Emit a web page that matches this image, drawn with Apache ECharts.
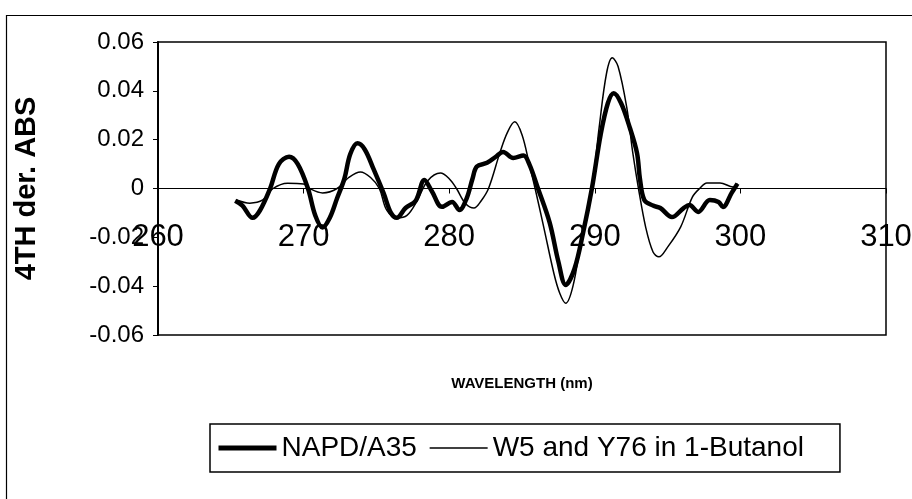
<!DOCTYPE html>
<html>
<head>
<meta charset="utf-8">
<script src="https://cdn.jsdelivr.net/npm/echarts@6/dist/echarts.min.js"></script>
<style>html,body{margin:0;padding:0;background:#fff}#c{width:912px;height:499px}</style>
</head>
<body>
<div id="c"></div>
<script>
const seriesNames = ['NAPD/A35', 'W5 and Y76 in 1-Butanol'];
const xTicks = [260, 270, 280, 290, 300, 310];
const yTicks = [-0.06, -0.04, -0.02, 0, 0.02, 0.04, 0.06];

const napdX = [265.3,265.8,266.5,267.0,267.7,268.3,269.0,269.6,270.3,270.8,271.3,271.8,272.3,272.8,273.2,273.7,274.2,274.8,275.5,276.0,276.4,277.0,277.7,278.3,278.8,279.5,280.2,280.7,281.2,281.6,281.9,282.6,283.2,283.7,284.4,285.1,285.5,286.1,286.9,287.5,288.0,288.6,289.2,289.8,290.4,290.9,291.3,291.8,292.4,292.9,293.1,293.4,294.0,294.5,295.3,296.1,296.5,297.1,297.9,298.5,298.8,299.4,299.8];
const napdY = [-0.005,-0.007,-0.012,-0.009,0.000,0.010,0.013,0.010,0.000,-0.011,-0.016,-0.012,-0.004,0.004,0.014,0.0185,0.016,0.008,-0.002,-0.010,-0.012,-0.008,-0.005,0.0035,-0.001,-0.0075,-0.0055,-0.0088,-0.004,0.004,0.009,0.0105,0.013,0.015,0.0125,0.0135,0.010,0.000,-0.014,-0.030,-0.0395,-0.033,-0.018,0.000,0.022,0.035,0.039,0.035,0.025,0.0145,0.004,-0.0047,-0.007,-0.008,-0.0117,-0.008,-0.0068,-0.0096,-0.0047,-0.0055,-0.0076,-0.0018,0.002];

const butX = [265.4,266.3,267.2,267.9,268.9,270.0,270.4,271.3,272.3,273.1,273.9,274.6,275.2,275.7,276.4,277.1,277.8,278.5,279.4,280.0,280.5,281.1,281.7,282.2,282.7,283.5,284.0,284.5,285.0,285.5,285.9,286.5,287.2,287.6,288.0,288.5,289.1,289.8,290.3,290.8,291.2,291.6,292.2,292.6,293.0,293.5,294.0,294.4,295.0,295.9,296.7,297.2,297.7,298.6,299.5,299.8];
const butY = [-0.0047,-0.006,-0.0047,0.000,0.0022,0.0018,0.000,-0.0018,0.000,0.0045,0.0068,0.0045,0.000,-0.0088,-0.012,-0.011,-0.005,0.003,0.0063,0.004,0.000,-0.006,-0.008,-0.005,0.000,0.015,0.023,0.0273,0.022,0.010,0.000,-0.016,-0.035,-0.043,-0.047,-0.040,-0.020,0.000,0.025,0.047,0.0535,0.050,0.033,0.015,0.000,-0.016,-0.026,-0.028,-0.024,-0.0157,-0.0035,0.000,0.0023,0.0023,0.0006,0.002];

const FONT = 'Liberation Sans, Arial, sans-serif';
const zip = (xs, ys) => xs.map((x, i) => [x, ys[i]]);

const chart = echarts.init(document.getElementById('c'), null, {renderer: 'canvas'});
chart.setOption({
  animation: false,
  backgroundColor: '#fff',
  graphic: [{
    type: 'rect', left: 4, top: 13, silent: true,
    shape: {width: 1000, height: 600},
    style: {fill: 'none', stroke: '#000', lineWidth: 1.2}
  }],
  grid: {left: 158, right: 26, top: 42, bottom: 164, show: true, borderColor: '#000', borderWidth: 1.5,
         backgroundColor: 'transparent', containLabel: false, outerBoundsMode: 'none'},
  xAxis: {
    type: 'value', min: xTicks[0], max: xTicks[xTicks.length - 1], interval: 10,
    name: 'WAVELENGTH (nm)', nameLocation: 'middle', nameGap: 41, nameMoveOverlap: false,
    nameTextStyle: {fontFamily: FONT, fontWeight: 'bold', fontSize: 15, color: '#000'},
    axisLine: {onZero: true, lineStyle: {color: '#000', width: 1}},
    axisTick: {show: true, length: 5, lineStyle: {color: '#000'}},
    axisLabel: {fontFamily: FONT, fontSize: 31, color: '#000', margin: -113},
    splitLine: {show: false}
  },
  yAxis: {
    type: 'value', min: yTicks[0], max: yTicks[yTicks.length - 1], interval: 0.02,
    name: '4TH der. ABS', nameLocation: 'middle', nameGap: 117, nameRotate: 90,
    nameTextStyle: {fontFamily: FONT, fontWeight: 'bold', fontSize: 29, color: '#000'},
    axisLine: {show: true, lineStyle: {color: '#000', width: 2}},
    axisTick: {show: true, length: 5, lineStyle: {color: '#000'}},
    axisLabel: {fontFamily: FONT, fontSize: 24, color: '#000', margin: 14,
      formatter: v => (Math.abs(v) < 1e-9 ? '0' : v.toFixed(2))},
    splitLine: {show: false}
  },
  legend: {
    left: 210, top: 424, orient: 'horizontal',
    data: [
      {name: seriesNames[0], lineStyle: {width: 5, color: '#000'}},
      {name: seriesNames[1], lineStyle: {width: 1.5, color: '#000'}}
    ],
    borderColor: '#000', borderWidth: 1.5, borderRadius: 0,
    padding: [10, 36, 10, 6], itemGap: 12, itemWidth: 58, itemHeight: 14,
    itemStyle: {color: 'rgba(0,0,0,0)', borderWidth: 0, opacity: 0},
    textStyle: {fontFamily: FONT, fontSize: 28, color: '#000'}
  },
  series: [
    {name: seriesNames[0], type: 'line', data: zip(napdX, napdY), smooth: 0.35, symbol: 'none',
     lineStyle: {color: '#000', width: 4.5}, itemStyle: {color: '#000'}, z: 3},
    {name: seriesNames[1], type: 'line', data: zip(butX, butY), smooth: 0.35, symbol: 'none',
     lineStyle: {color: '#000', width: 1.5}, itemStyle: {color: '#000'}, z: 2}
  ]
});
</script>
</body>
</html>
